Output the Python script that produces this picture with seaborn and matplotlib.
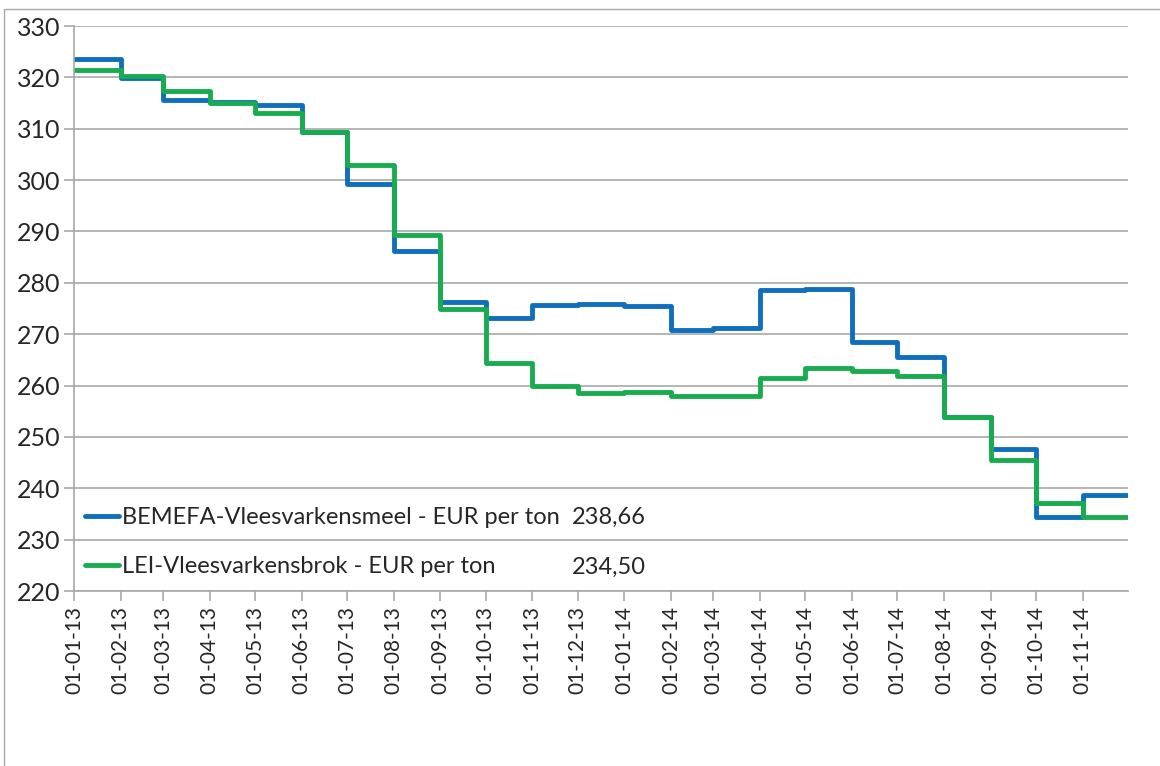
import pandas as pd
import matplotlib.pyplot as plt
import matplotlib.dates as mdates
import seaborn as sns

months = pd.date_range('2013-01-01', periods=23, freq='MS')
bemefa = [323.6, 319.9, 315.6, 315.3, 314.7, 309.4, 299.2, 286.1, 276.3, 273.1, 275.6, 275.9,
          275.5, 270.9, 271.3, 278.6, 278.7, 268.5, 265.5, 253.8, 247.7, 234.4, 238.66]
lei = [321.5, 320.3, 317.4, 315.0, 313.0, 309.4, 303.0, 289.4, 275.0, 264.4, 260.0, 258.5,
       258.8, 257.9, 257.9, 261.5, 263.45, 262.9, 261.8, 253.8, 245.5, 237.2, 234.50]
names = ['BEMEFA-Vleesvarkensmeel - EUR per ton', 'LEI-Vleesvarkensbrok - EUR per ton']
colors = ['#0F6FBD', '#17AD4F']

if __name__ == "__main__":
    # last step runs to the end of the final month
    end = months[-1] + pd.offsets.MonthBegin(1)
    dates = list(months) + [end]
    df = pd.DataFrame({'date': dates * 2,
                       'value': bemefa + [bemefa[-1]] + lei + [lei[-1]],
                       'series': [names[0]] * len(dates) + [names[1]] * len(dates)})

    sns.set_style("white")
    plt.rcParams['font.family'] = ['Lato', 'DejaVu Sans']
    fig = plt.figure(figsize=(11.6, 7.66), dpi=100)
    ax = fig.add_axes([74 / 1160, 1 - 591 / 766, (1128 - 74) / 1160, (591 - 26) / 766])

    sns.lineplot(data=df, x='date', y='value', hue='series', palette=colors,
                 drawstyle='steps-post', linewidth=3.5, ax=ax, legend=True)

    ax.set_ylim(220, 330)
    ax.set_yticks(range(220, 331, 10))
    ax.set_xlim(months[0], end)
    ax.set_xticks(months)
    ax.xaxis.set_major_formatter(mdates.DateFormatter('%d-%m-%y'))
    ax.set_xlabel('')
    ax.set_ylabel('')
    ax.grid(axis='y', color='#A8A8A8', linewidth=1.2)
    ax.grid(axis='x', visible=False)
    ax.tick_params(axis='x', rotation=90, labelsize=15, length=7, color='#A8A8A8', width=1.2,
                   direction='out', bottom=True, pad=4)
    ax.tick_params(axis='y', labelsize=18, length=7, color='#A8A8A8', width=1.2,
                   direction='out', left=True, pad=3)
    for s in ['top', 'right']:
        ax.spines[s].set_visible(False)
    for s in ['left', 'bottom']:
        ax.spines[s].set_color('#A8A8A8')
        ax.spines[s].set_linewidth(1.2)

    leg = ax.legend(loc='center left', bbox_to_anchor=((85 - 74) / 1054, (591 - 542) / 565),
                    frameon=False, fontsize=17, handlelength=1.45, handletextpad=0.1,
                    labelspacing=1.2, borderaxespad=0, borderpad=0)
    for line in leg.get_lines():
        line.set_linewidth(3.5)

    for i, vals in enumerate([bemefa, lei]):
        ax.text((572 - 74) / 1054, (591 - 517 - 50 * i) / 565,
                f"{vals[-1]:.2f}".replace('.', ','), transform=ax.transAxes,
                fontsize=17, va='center', ha='left')

    border = plt.Rectangle((4 / 1160, -0.1), 1.2, 1 - 9 / 766 + 0.1, transform=fig.transFigure,
                           fill=False, edgecolor='#A8A8A8', linewidth=1)
    fig.patches.append(border)

    plt.savefig('out.png', dpi=100)
